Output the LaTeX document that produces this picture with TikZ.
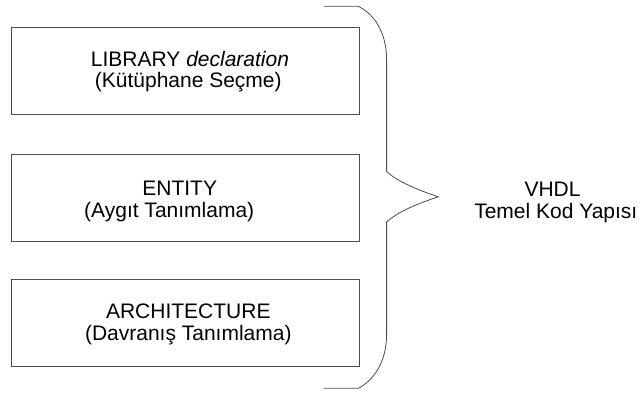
\documentclass[tikz,border=0pt]{standalone}
\usepackage{fontspec}
\setmainfont{Liberation Sans}
\begin{document}
\begin{tikzpicture}[x=1pt,y=-1pt,
  line/.style={draw=black!70,line width=0.8pt},
  blockbox/.style={line,rectangle,minimum width=347.6pt,minimum height=87pt,inner sep=0pt},
  txt/.style={anchor=base,inner sep=0pt,font=\fontsize{21}{22}\selectfont}]
\useasboundingbox (0,0) rectangle (644,392);

% the three code blocks
\node[blockbox] (lib)  at (185.5,71.3)  {};
\node[blockbox] (ent)  at (185.5,197.5) {};
\node[blockbox] (arch) at (185.5,322.8) {};

% block captions
\node[txt] (lib1)  at (190,66)    {LIBRARY \textit{declaration}};
\node[txt] (lib2)  at (188.3,87.7) {(Kütüphane Seçme)};
\node[txt] (ent1)  at (179.7,195)  {ENTITY};
\node[txt] (ent2)  at (169.2,217.7) {(Aygıt Tanımlama)};
\node[txt] (arch1) at (188.3,318.3) {ARCHITECTURE};
\node[txt] (arch2) at (188.3,340.3) {(Davranış Tanımlama)};

% brace grouping the blocks
\coordinate (btop) at (323.5,6.3);
\coordinate (bbot) at (323.5,388.3);
\coordinate (tip)  at (438.3,196.8);
\draw[line] (btop) -- (358.3,6.3)
  .. controls (374,14) and (386.6,32) .. (386.6,60)
  -- (386.6,171.5)
  .. controls (398,182) and (418,190) .. (tip)
  .. controls (418,203.5) and (398,211.5) .. (386.6,222)
  -- (386.6,334)
  .. controls (386.6,362) and (374,380) .. (358.3,388.3)
  -- (bbot);

% label on the brace tip
\node[txt] (t1) at (552.5,196.7) {VHDL};
\node[txt] (t2) at (555.8,218.5) {Temel Kod Yapısı};
\end{tikzpicture}
\end{document}
